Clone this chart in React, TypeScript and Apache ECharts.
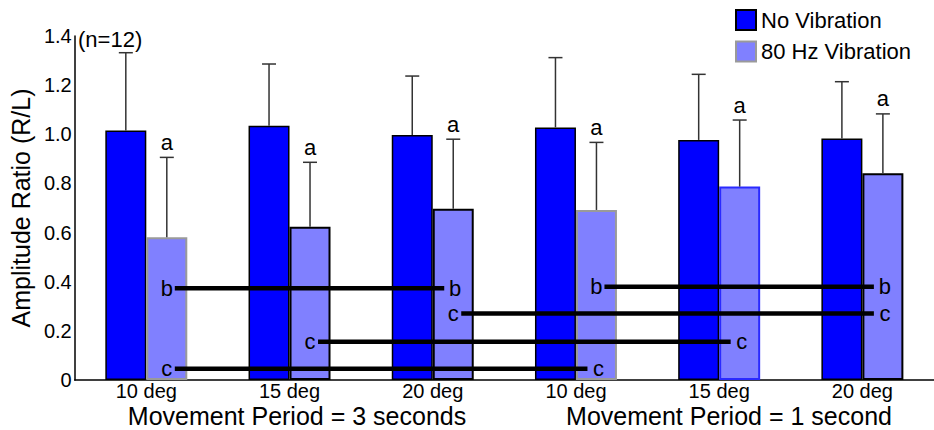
import React, { useEffect, useRef } from "react";
import * as echarts from "echarts";

const categories = ["10 deg", "15 deg", "20 deg", "10 deg", "15 deg", "20 deg"];
const noVibration = [1.015, 1.035, 0.997, 1.028, 0.977, 0.983];
const noVibrationSD = [0.317, 0.251, 0.24, 0.284, 0.267, 0.231];
const vibration = [0.581, 0.624, 0.697, 0.692, 0.787, 0.841];
const vibrationSD = [0.325, 0.262, 0.283, 0.275, 0.271, 0.242];
const vibrationLabels = ["a", "a", "a", "a", "a", "a"];
const yTicks = [0, 0.2, 0.4, 0.6, 0.8, 1.0, 1.2, 1.4];

// significance comparisons between 80 Hz bars
const cmpFrom = [0, 0, 1, 2, 3];
const cmpTo = [2, 3, 4, 5, 5];
const cmpY = [0.373, 0.046, 0.156, 0.271, 0.38];
const cmpLabel = ["b", "c", "c", "c", "b"];

const vibBorderColors = ["#9a9a9a", "#000000", "#000000", "#9a9a9a", "#2a2aff", "#000000"];

const FONT = "'Liberation Sans', Arial, Helvetica, sans-serif";
const BAR_FRAC = 41.5 / 145;

export default function App() {
  const ref = useRef<HTMLDivElement>(null);
  useEffect(() => {
    document.body.style.margin = "0";
    const chart = echarts.init(ref.current!, null, { renderer: "svg" });
    const errData: number[][] = [];
    noVibration.forEach((v, i) => errData.push([i, v, v + noVibrationSD[i], 0]));
    vibration.forEach((v, i) => errData.push([i, v, v + vibrationSD[i], 1]));
    const cmpData = cmpFrom.map((f, i) => [f, cmpY[i], cmpTo[i]]);

    chart.setOption({
      animation: false,
      textStyle: { fontFamily: FONT },
      grid: { left: 71.2, top: 36, width: 870, height: 344 },
      legend: {
        data: ["No Vibration", "80 Hz Vibration"],
        orient: "vertical",
        left: 735,
        top: 9,
        padding: 0,
        itemWidth: 20,
        itemHeight: 20,
        itemGap: 9.5,
        icon: "rect",
        textStyle: { fontSize: 22, color: "#000", fontFamily: FONT },
      },
      xAxis: {
        type: "category",
        data: categories,
        axisLine: { lineStyle: { color: "#000", width: 1.5 } },
        axisTick: { show: false },
        axisLabel: { fontSize: 20, lineHeight: 18, color: "#000", margin: 2, fontFamily: FONT, interval: 0 },
      },
      yAxis: {
        type: "value",
        min: 0,
        max: 1.4,
        interval: 0.2,
        name: "Amplitude Ratio (R/L)",
        nameLocation: "middle",
        nameGap: 35,
        nameTextStyle: { fontSize: 25, color: "#000", fontFamily: FONT },
        axisLine: { show: true, lineStyle: { color: "#000", width: 1.5 } },
        axisTick: { show: false },
        splitLine: { show: false },
        axisLabel: {
          fontSize: 20,
          color: "#000",
          margin: 3,
          fontFamily: FONT,
          formatter: (v: number) => {
            const t = yTicks.find((k) => Math.abs(k - v) < 1e-6);
            const val = t === undefined ? v : t;
            return val === 0 ? "0" : val.toFixed(1);
          },
        },
      },
      series: [
        {
          name: "No Vibration",
          type: "bar",
          data: noVibration,
          barWidth: (BAR_FRAC * 100).toFixed(2) + "%",
          barGap: "0%",
          itemStyle: { color: "#0000ff", borderColor: "#000", borderWidth: 1.5 },
        },
        {
          name: "80 Hz Vibration",
          type: "bar",
          data: vibration.map((v, i) => ({ value: v, itemStyle: { borderColor: vibBorderColors[i] } })),
          barWidth: (BAR_FRAC * 100).toFixed(2) + "%",
          barGap: "0%",
          itemStyle: { color: "#8080ff", borderColor: "#9a9a9a", borderWidth: 2 },
        },
        {
          name: "errors",
          type: "custom",
          z: 5,
          encode: { x: 0, y: 1 },
          data: errData,
          renderItem: (params: any, api: any) => {
            const idx = api.value(0);
            const light = api.value(3) === 1;
            const bw = api.size([1, 0])[0] * BAR_FRAC;
            const base = api.coord([idx, api.value(1)]);
            const top = api.coord([idx, api.value(2)]);
            const x = base[0] + (light ? bw / 2 : -bw / 2);
            const children: any[] = [
              { type: "line", shape: { x1: x, y1: base[1], x2: x, y2: top[1] }, style: { stroke: "#333", lineWidth: 1.5 } },
              { type: "line", shape: { x1: x - 7, y1: top[1], x2: x + 7, y2: top[1] }, style: { stroke: "#333", lineWidth: 1.5 } },
            ];
            if (light) {
              const lab = vibrationLabels[params.dataIndex - noVibration.length];
              if (lab) {
                children.push({
                  type: "text",
                  x: x,
                  y: top[1] - 15,
                  style: { text: lab, fontSize: 22, fill: "#000", align: "center", verticalAlign: "middle", fontFamily: FONT },
                });
              }
            }
            return { type: "group", children };
          },
        },
        {
          name: "comparisons",
          type: "custom",
          z: 6,
          encode: { x: 0, y: 1 },
          data: cmpData,
          renderItem: (params: any, api: any) => {
            const bw = api.size([1, 0])[0] * BAR_FRAC;
            const p1 = api.coord([api.value(0), api.value(1)]);
            const p2 = api.coord([api.value(2), api.value(1)]);
            const x1 = p1[0] + bw / 2;
            const x2 = p2[0] + bw / 2;
            const y = p1[1];
            const lab = cmpLabel[params.dataIndex];
            const ts = { fontSize: 22, fill: "#000", align: "center", verticalAlign: "middle", fontFamily: FONT };
            return {
              type: "group",
              children: [
                { type: "line", shape: { x1: x1 + 8, y1: y, x2: x2 - 9, y2: y }, style: { stroke: "#000", lineWidth: 4.5 } },
                { type: "text", x: x1, y: y, style: { ...ts, text: lab } },
                { type: "text", x: x2 + 2, y: y, style: { ...ts, text: lab } },
              ],
            };
          },
        },
      ],
      graphic: [
        {
          type: "text",
          x: 78,
          y: 39,
          style: { text: "(n=12)", fontSize: 22, fill: "#000", fontFamily: FONT, align: "left", verticalAlign: "middle", textAlign: "left", textVerticalAlign: "middle" },
        },
        {
          type: "text",
          x: 297,
          y: 416,
          style: { text: "Movement Period = 3 seconds", fontSize: 25, lineHeight: 22, fill: "#000", fontFamily: FONT, align: "center", verticalAlign: "middle", textAlign: "center", textVerticalAlign: "middle" },
        },
        {
          type: "text",
          x: 729,
          y: 416,
          style: { text: "Movement Period = 1 second", fontSize: 25, lineHeight: 22, fill: "#000", fontFamily: FONT, align: "center", verticalAlign: "middle", textAlign: "center", textVerticalAlign: "middle" },
        },
      ],
    });
    return () => chart.dispose();
  }, []);
  return <div ref={ref} style={{ width: 934, height: 430, position: "absolute", left: 0, top: 0 }} />;
}
